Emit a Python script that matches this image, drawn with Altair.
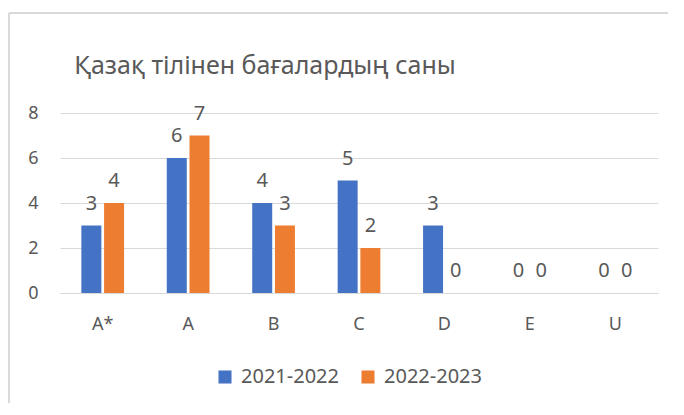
import altair as alt
import pandas as pd

categories = ["A*", "A", "B", "C", "D", "E", "U"]
series_names = ["2021-2022", "2022-2023"]
values_2021 = [3, 6, 4, 5, 3, 0, 0]
values_2022 = [4, 7, 3, 2, 0, 0, 0]
colors = ["#4472C4", "#ED7D31"]
title_text = "Қазақ тілінен бағалардың саны"

rows = []
for c, a, b in zip(categories, values_2021, values_2022):
    rows.append({"cat": c, "series": series_names[0], "value": a})
    rows.append({"cat": c, "series": series_names[1], "value": b})
df = pd.DataFrame(rows)

FONT = "Noto Sans"
GREY = "#595959"

x = alt.X("cat:N", sort=categories, title=None,
          scale=alt.Scale(paddingInner=0.5, paddingOuter=0.25),
          axis=alt.Axis(labelAngle=0, ticks=False, domainColor="#d9d9d9",
                        labelFontSize=18, labelColor=GREY, labelFont=FONT,
                        labelPadding=22, grid=False))
xoff = alt.XOffset("series:N", sort=series_names,
                   scale=alt.Scale(paddingInner=0.12))
y = alt.Y("value:Q", title=None,
          scale=alt.Scale(domain=[0, 8]),
          axis=alt.Axis(values=[0, 2, 4, 6, 8], ticks=False, domain=False,
                        gridColor="#d9d9d9", labelFontSize=18, labelColor=GREY,
                        labelFont=FONT, labelPadding=22))
color = alt.Color("series:N", sort=series_names,
                  scale=alt.Scale(domain=series_names, range=colors),
                  legend=alt.Legend(title=None, orient="none", direction="horizontal",
                                    legendX=155, legendY=254, symbolType="square",
                                    symbolSize=170, symbolStrokeWidth=0,
                                    labelFontSize=20, labelColor=GREY, labelFont=FONT,
                                    columnPadding=19, labelOffset=6))

bars = alt.Chart(df).mark_bar().encode(x=x, xOffset=xoff, y=y, color=color)
labels = alt.Chart(df).mark_text(dy=-22, fontSize=20, color=GREY, font=FONT).encode(
    x=alt.X("cat:N", sort=categories), xOffset=xoff, y="value:Q", text="value:Q")

one = pd.DataFrame({"t": [title_text]})
title = alt.Chart(one).mark_text(fontSize=25, color=GREY, font=FONT,
                                 baseline="alphabetic", align="center").encode(
    x=alt.value(205), y=alt.value(-39), text="t:N")
top_line = alt.Chart(one).mark_rule(color="#d9d9d9", strokeWidth=2).encode(
    x=alt.value(-51), x2=alt.value(640), y=alt.value(-100))
left_line = alt.Chart(one).mark_rule(color="#d9d9d9", strokeWidth=2).encode(
    x=alt.value(-51), y=alt.value(-100), y2=alt.value(310))

chart = alt.layer(top_line, left_line, title, bars, labels).properties(
    width=598, height=180,
    padding={"left": 52, "top": 105, "right": 10, "bottom": 110},
    autosize=alt.AutoSizeParams(type="none"),
).configure_view(stroke=None)

chart.save("out.html", embed_options={"renderer": "svg", "actions": False})
